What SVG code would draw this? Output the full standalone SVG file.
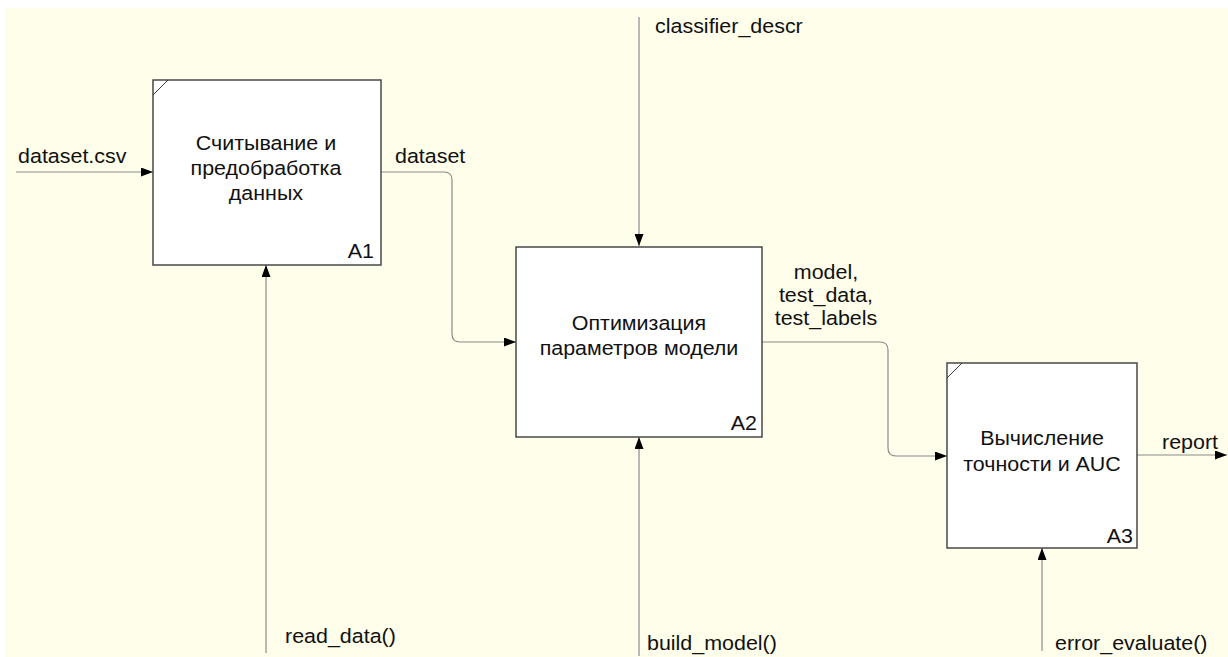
<svg xmlns="http://www.w3.org/2000/svg" width="1228" height="657" viewBox="0 0 1228 657">
  <style>
    .box { fill: #ffffff; stroke: #3c3c3c; stroke-width: 1.4; }
    .tick { stroke: #3c3c3c; stroke-width: 1; fill: none; }
    .arrow { fill: none; stroke: #8a8a8a; stroke-width: 1.2; marker-end: url(#head); }
    .t { font-family: "Liberation Sans", Arial, sans-serif; font-size: 19.5px; fill: #111111; }
    .c { text-anchor: middle; }
    .r { text-anchor: end; }
  </style>
  <defs>
    <marker id="head" markerUnits="userSpaceOnUse" markerWidth="12" markerHeight="9" refX="12" refY="4.5" orient="auto">
      <path d="M0,0 L12,4.5 L0,9 z" fill="#000000"/>
    </marker>
  </defs>

  <!-- page -->
  <rect x="0" y="0" width="1228" height="657" fill="#ffffff"/>
  <rect x="5" y="8" width="1223" height="649" fill="#fffeea"/>

  <!-- connectors (labels use a slightly widened type: x values are divided by 1.1) -->
  <g id="connectors">
    <path class="arrow" d="M16,172 H153"/>
    <path class="arrow" d="M381,172 H444 Q452,172 452,180 V334 Q452,342 460,342 H516"/>
    <path class="arrow" d="M639,17 V246"/>
    <path class="arrow" d="M266,653 V265"/>
    <path class="arrow" d="M639,656 V437"/>
    <path class="arrow" d="M1042,651 V548"/>
    <path class="arrow" d="M762,342 H880 Q888,342 888,350 V448 Q888,456 896,456 H947"/>
    <path class="arrow" d="M1137,455 H1227"/>
    <g transform="scale(1.1,1)">
      <text class="t" x="16.4" y="163">dataset.csv</text>
      <text class="t" x="359.1" y="163">dataset</text>
      <text class="t" x="595.5" y="33">classifier_descr</text>
      <text class="t" x="259.1" y="643">read_data()</text>
      <text class="t" x="588.2" y="650">build_model()</text>
      <text class="t" x="959.1" y="650">error_evaluate()</text>
      <text class="t c" x="750.9" y="279">model,</text>
      <text class="t c" x="750.9" y="302">test_data,</text>
      <text class="t c" x="750.9" y="325">test_labels</text>
      <text class="t" x="1056.4" y="449">report</text>
    </g>
  </g>

  <!-- A1 -->
  <g id="A1">
    <rect class="box" x="153" y="80" width="228" height="185"/>
    <path class="tick" d="M153,95 L168,80"/>
    <g transform="scale(1.1,1)">
      <text class="t c" x="241.8" y="150">Считывание и</text>
      <text class="t c" x="241.8" y="175">предобработка</text>
      <text class="t c" x="241.8" y="200">данных</text>
      <text class="t r" x="340" y="258">A1</text>
    </g>
  </g>

  <!-- A2 -->
  <g id="A2">
    <rect class="box" x="516" y="247" width="246" height="190"/>
    <g transform="scale(1.1,1)">
      <text class="t c" x="580.9" y="330">Оптимизация</text>
      <text class="t c" x="580.9" y="355">параметров модели</text>
      <text class="t r" x="688.2" y="430">A2</text>
    </g>
  </g>

  <!-- A3 -->
  <g id="A3">
    <rect class="box" x="947" y="363" width="190" height="185"/>
    <path class="tick" d="M947,378 L962,363"/>
    <g transform="scale(1.1,1)">
      <text class="t c" x="947.3" y="445">Вычисление</text>
      <text class="t c" x="947.3" y="471">точности и AUC</text>
      <text class="t r" x="1030" y="543">A3</text>
    </g>
  </g>
</svg>
